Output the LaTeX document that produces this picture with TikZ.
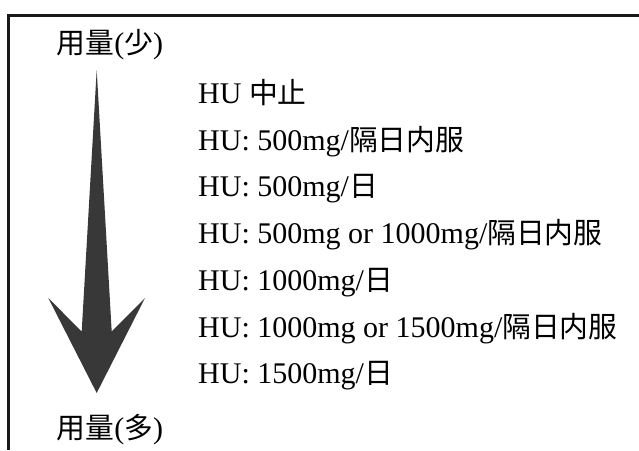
\documentclass[tikz,border=0pt]{standalone}
\usepackage{fontspec}
\setmainfont{Liberation Serif}
\newfontfamily\cjkfont[Scale=0.96]{Noto Sans CJK JP}
\newcommand{\J}[1]{{\cjkfont #1}}
\begin{document}
\begin{tikzpicture}[x=1pt,y=-1pt,
  lbl/.style={inner sep=0pt, font=\fontsize{30}{35}\selectfont},
  item/.style={lbl, anchor=base west},
  frameline/.style={line width=3pt, black!90},
  bigarrow/.style={fill=black!78, draw=none}]
\useasboundingbox (0,0) rectangle (639,450);
% frame
\draw[frameline] (639,15) -- (8,15) -- (8,450);
% arrow
\fill[bigarrow] (96.7,70) -- (111.7,331.5) -- (145,298) -- (96.7,393)
  -- (48.3,298) -- (81.7,331.5) -- cycle;
% labels
\node[lbl] (few) at (110,45) {\J{用量}(\J{少})};
\node[lbl] (many) at (110,430) {\J{用量}(\J{多})};
\node[item] (l1) at (198,103.5) {HU \J{中止}};
\node[item] (l2) at (198,150.2) {HU: 500mg/\J{隔日内服}};
\node[item] (l3) at (198,196.9) {HU: 500mg/\J{日}};
\node[item] (l4) at (198,243.6) {HU: 500mg or 1000mg/\J{隔日内服}};
\node[item] (l5) at (198,290.3) {HU: 1000mg/\J{日}};
\node[item] (l6) at (198,337.0) {HU: 1000mg or 1500mg/\J{隔日内服}};
\node[item] (l7) at (198,383.7) {HU: 1500mg/\J{日}};
\end{tikzpicture}
\end{document}
